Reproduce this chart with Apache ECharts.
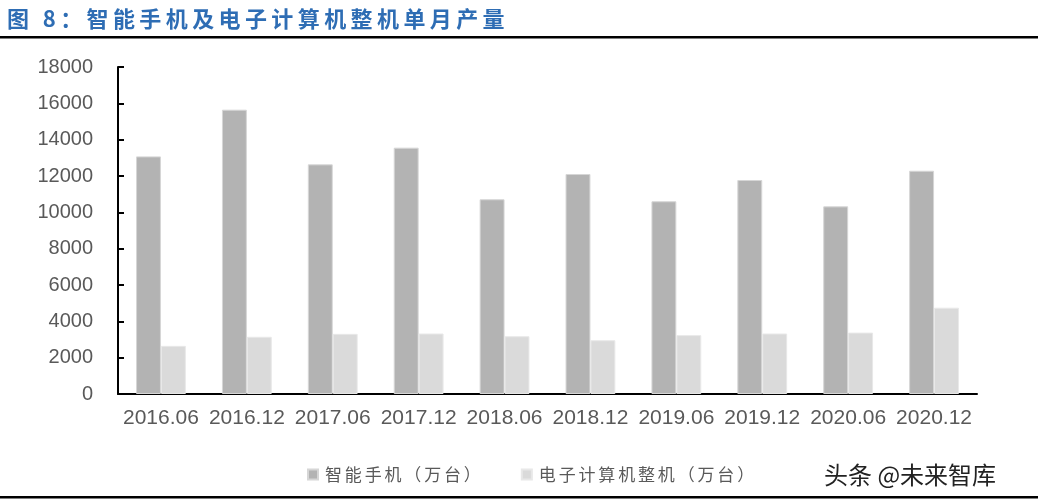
<!DOCTYPE html>
<html>
<head>
<meta charset="utf-8">
<script src="https://cdn.jsdelivr.net/npm/echarts@6/dist/echarts.min.js"></script>
<style>html,body{margin:0;padding:0;background:#fff}#c{width:1038px;height:504px}</style>
</head>
<body>
<div id="c"></div>
<script>
const categories = ['2016.06','2016.12','2017.06','2017.12','2018.06','2018.12','2019.06','2019.12','2020.06','2020.12'];
const smartphone = [13080, 15650, 12640, 13560, 10720, 12110, 10610, 11780, 10330, 12290];
const computer = [2650, 3150, 3310, 3330, 3180, 2960, 3240, 3330, 3380, 4750];
const seriesNames = ['智能手机（万台）', '电子计算机整机（万台）'];
const titleText = '图 8：智能手机及电子计算机整机单月产量';
const watermark = '头条 @未来智库';

function spaced(s, sp) { return Array.from(s).join(sp); }

const chart = echarts.init(document.getElementById('c'), null, {renderer: 'canvas'});
chart.setOption({
  backgroundColor: '#fff',
  animation: false,
  title: {
    text: spaced(titleText, '\u2009'),
    left: 2, top: 3,
    textStyle: {color: '#2E6DB4', fontSize: 22, fontWeight: 'bold', fontFamily: '"Noto Sans CJK SC", sans-serif'}
  },
  grid: {left: 118, right: 61, top: 67, bottom: 110, containLabel: false},
  legend: {
    left: 302, top: 461,
    itemWidth: 10, itemHeight: 10, itemGap: 40,
    icon: 'rect',
    data: seriesNames,
    formatter: n => spaced(n, '\u2006'),
    textStyle: {color: '#595959', fontSize: 17, fontFamily: '"Noto Sans CJK SC", sans-serif', padding: [0,0,0,2]}
  },
  xAxis: {
    type: 'category',
    data: categories,
    axisLine: {show: true, lineStyle: {color: '#000', width: 2}},
    axisTick: {show: false},
    axisLabel: {interval: 0, color: '#595959', fontSize: 21, fontFamily: '"Liberation Sans", Arial, sans-serif', margin: 14}
  },
  yAxis: {
    type: 'value',
    min: 0, max: 18000, interval: 2000,
    splitLine: {show: false},
    axisLine: {show: true, lineStyle: {color: '#000', width: 2}},
    axisTick: {show: true, inside: true, length: 6, lineStyle: {color: '#000', width: 2}},
    axisLabel: {formatter: v => String(v), color: '#595959', fontSize: 20, fontFamily: '"Liberation Sans", Arial, sans-serif', margin: 25}
  },
  series: [
    {name: seriesNames[0], type: 'bar', data: smartphone, barGap: '0%', barCategoryGap: '42%',
     itemStyle: {color: '#B3B3B3', borderColor: '#D6D6D6', borderWidth: 1}},
    {name: seriesNames[1], type: 'bar', data: computer,
     itemStyle: {color: '#DADADA', borderColor: '#E8E8E8', borderWidth: 1}}
  ],
  graphic: [
    {type: 'rect', shape: {x: 0, y: 36, width: 1038, height: 2.5}, style: {fill: '#000'}, silent: true},
    {type: 'rect', shape: {x: 0, y: 496, width: 1038, height: 2.5}, style: {fill: '#000'}, silent: true},
    {type: 'text', left: 824, top: 463,
     style: {text: watermark, fill: '#222', font: '24px "Noto Sans CJK SC", sans-serif'}}
  ]
});
</script>
</body>
</html>
